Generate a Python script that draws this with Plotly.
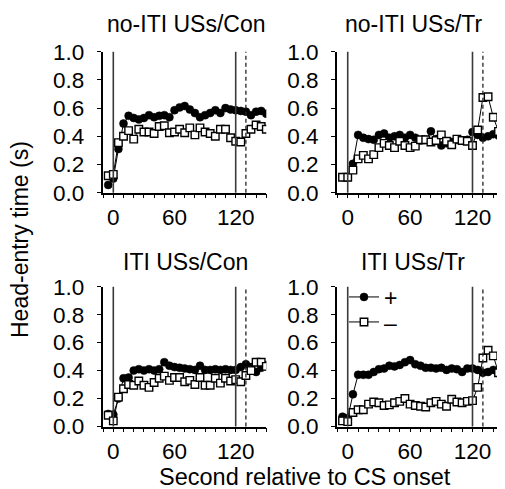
import plotly.graph_objects as go

# ---------------- data ----------------
time_s = [-5, 0, 5, 10, 15, 20, 25, 30, 35, 40, 45, 50, 55, 60, 65, 70, 75, 80,
          85, 90, 95, 100, 105, 110, 115, 120, 125, 130, 135, 140, 145, 150]

noiti_con_plus = [0.055, 0.10, 0.31, 0.49, 0.545, 0.53, 0.52, 0.53, 0.55, 0.535, 0.545, 0.55,
                  0.535, 0.585, 0.605, 0.615, 0.59, 0.565, 0.535, 0.55, 0.565, 0.585, 0.565, 0.60,
                  0.59, 0.585, 0.58, 0.575, 0.55, 0.575, 0.58, 0.56]
noiti_con_minus = [0.12, 0.13, 0.355, 0.40, 0.44, 0.38, 0.45, 0.43, 0.43, 0.42, 0.47, 0.475,
                   0.425, 0.43, 0.45, 0.425, 0.46, 0.41, 0.46, 0.43, 0.42, 0.40, 0.45, 0.45,
                   0.39, 0.365, 0.36, 0.42, 0.45, 0.48, 0.47, 0.45]

noiti_tr_plus = [0.11, 0.11, 0.205, 0.41, 0.39, 0.38, 0.375, 0.41, 0.42, 0.39, 0.40, 0.41,
                 0.39, 0.41, 0.39, 0.37, 0.375, 0.435, 0.38, 0.335, 0.35, 0.36, 0.375, 0.37,
                 0.375, 0.43, 0.41, 0.39, 0.40, 0.415, 0.405, 0.40]
noiti_tr_minus = [0.11, 0.11, 0.16, 0.24, 0.265, 0.24, 0.27, 0.32, 0.35, 0.335, 0.32, 0.365,
                  0.335, 0.32, 0.33, 0.375, 0.375, 0.36, 0.37, 0.41, 0.365, 0.34, 0.38, 0.37,
                  0.365, 0.335, 0.445, 0.675, 0.68, 0.535, 0.435, 0.36]

iti_con_plus = [0.09, 0.085, 0.20, 0.345, 0.35, 0.40, 0.41, 0.40, 0.41, 0.40, 0.41, 0.46,
                0.435, 0.425, 0.42, 0.415, 0.41, 0.405, 0.435, 0.405, 0.405, 0.41, 0.405, 0.41,
                0.405, 0.405, 0.425, 0.445, 0.425, 0.39, 0.42, 0.44]
iti_con_minus = [0.08, 0.04, 0.21, 0.27, 0.30, 0.295, 0.325, 0.295, 0.28, 0.315, 0.345, 0.36,
                 0.33, 0.35, 0.35, 0.32, 0.33, 0.30, 0.35, 0.295, 0.295, 0.345, 0.31, 0.345,
                 0.325, 0.335, 0.32, 0.365, 0.40, 0.46, 0.46, 0.43]

iti_tr_plus = [0.07, 0.06, 0.23, 0.37, 0.37, 0.37, 0.39, 0.41, 0.415, 0.435, 0.43, 0.44,
               0.46, 0.475, 0.445, 0.435, 0.42, 0.42, 0.415, 0.42, 0.405, 0.415, 0.41, 0.39,
               0.415, 0.415, 0.405, 0.385, 0.39, 0.405, 0.39, 0.39]
iti_tr_minus = [0.04, 0.035, 0.10, 0.12, 0.12, 0.16, 0.175, 0.17, 0.15, 0.155, 0.17, 0.18,
                0.20, 0.16, 0.15, 0.145, 0.14, 0.17, 0.18, 0.16, 0.145, 0.195, 0.175, 0.17,
                0.18, 0.185, 0.28, 0.49, 0.545, 0.505, 0.385, 0.32]

panel_titles = ["no-ITI USs/Con", "no-ITI USs/Tr", "ITI USs/Con", "ITI USs/Tr"]
panel_plus = [noiti_con_plus, noiti_tr_plus, iti_con_plus, iti_tr_plus]
panel_minus = [noiti_con_minus, noiti_tr_minus, iti_con_minus, iti_tr_minus]
legend_labels = ["+", "\u2013"]

solid_event_times = [0, 120]
dashed_event_time = 130
x_ticks = [0, 60, 120]
y_ticks = [0.0, 0.2, 0.4, 0.6, 0.8, 1.0]
y_tick_text = ["0.0", "0.2", "0.4", "0.6", "0.8", "1.0"]

# ---------------- layout geometry (page pixels) ----------------
PAGE_W, PAGE_H = 505, 489
OFF = 8                      # default body margin of the html page
W, H = PAGE_W - OFF, PAGE_H - OFF
FONT = "Liberation Sans, Arial, sans-serif"
FS = 22.5
FS_TITLE = 23

def px_x(p):
    return (p - OFF) / W

def px_y(p):
    return 1 - (p - OFF) / H

x_domains = [(102.6, 266.3), (336.8, 503.7), (102.6, 266.3), (336.8, 503.7)]
y_domains = [(51.7, 192.7), (51.7, 192.7), (286.7, 426.5), (286.7, 426.5)]
title_pos = [(186, 24), (413, 24), (185, 262), (413, 262)]

legend_common = dict(xanchor="left", yanchor="middle", bgcolor="rgba(0,0,0,0)", borderwidth=0,
                     itemwidth=30, font=dict(family=FONT, size=FS_TITLE, color="black"))

fig = go.Figure()
layout = dict(
    template="none",
    width=W, height=H, autosize=False,
    margin=dict(l=0, r=0, t=0, b=0, pad=0, autoexpand=False),
    paper_bgcolor="white", plot_bgcolor="white",
    font=dict(family=FONT, size=FS, color="black"),
    showlegend=True,
    legend=dict(x=px_x(344), y=px_y(297), **legend_common),
    legend2=dict(x=px_x(344), y=px_y(322), **legend_common),
)
shapes = []
annotations = []

for i in range(4):
    n = "" if i == 0 else str(i + 1)
    xa, ya = "x" + n, "y" + n
    x0, x1 = x_domains[i]
    yt, yb = y_domains[i]
    layout["xaxis" + n] = dict(
        domain=[px_x(x0), min(1.0, px_x(x1))], anchor=ya, range=[-10.5, 150], automargin=False,
        showgrid=False, zeroline=False, showline=True, linecolor="black", linewidth=1.5,
        ticks="outside", ticklen=4, tickwidth=1.2, tickcolor="black",
        tickmode="array", tickvals=x_ticks, ticktext=[str(t) for t in x_ticks],
        minor=dict(ticks="outside", ticklen=4, tickwidth=1.2, tickcolor="black", dtick=10, tick0=0,
                   showgrid=False),
        tickfont=dict(family=FONT, size=FS, color="black"),
    )
    layout["yaxis" + n] = dict(
        domain=[max(0.0, px_y(yb)), px_y(yt)], anchor=xa, range=[0, 1], automargin=False,
        showgrid=False, zeroline=False, showline=True, linecolor="black", linewidth=1.5,
        ticks="outside", ticklen=4, tickwidth=1.2, tickcolor="black",
        tickmode="array", tickvals=y_ticks, ticktext=y_tick_text,
        ticklabelstandoff=8,
        tickfont=dict(family=FONT, size=FS, color="black"),
    )
    for t in solid_event_times:
        shapes.append(dict(type="line", xref=xa, yref=ya + " domain", x0=t, x1=t, y0=0, y1=1,
                           line=dict(color="#3a3a3a", width=1.6)))
    shapes.append(dict(type="line", xref=xa, yref=ya + " domain", x0=dashed_event_time,
                       x1=dashed_event_time, y0=0, y1=1,
                       line=dict(color="#222222", width=1.3, dash="4px,3px")))
    tx, ty = title_pos[i]
    annotations.append(dict(text=panel_titles[i], x=px_x(tx), y=px_y(ty), xref="paper", yref="paper",
                            xanchor="center", yanchor="middle", showarrow=False,
                            font=dict(family=FONT, size=FS_TITLE, color="black")))

    fig.add_trace(go.Scatter(
        x=time_s, y=panel_plus[i], xaxis=xa, yaxis=ya, mode="lines+markers",
        name=legend_labels[0], legend="legend", showlegend=(i == 3),
        line=dict(color="black", width=1), cliponaxis=True,
        marker=dict(symbol="circle", size=8, color="black", line=dict(color="black", width=0.5)),
    ))
    fig.add_trace(go.Scatter(
        x=time_s, y=panel_minus[i], xaxis=xa, yaxis=ya, mode="lines+markers",
        name=legend_labels[1], legend="legend2", showlegend=(i == 3),
        line=dict(color="black", width=1), cliponaxis=True,
        marker=dict(symbol="square", size=7.5, color="white", line=dict(color="black", width=1.4)),
    ))

annotations.append(dict(text="Head-entry time (s)", x=px_x(20), y=px_y(240), xref="paper", yref="paper",
                        textangle=-90, xanchor="center", yanchor="middle", showarrow=False,
                        font=dict(family=FONT, size=FS_TITLE, color="black")))
annotations.append(dict(text="Second relative to CS onset", x=px_x(305), y=px_y(477), xref="paper",
                        yref="paper", xanchor="center", yanchor="middle", showarrow=False,
                        font=dict(family=FONT, size=FS_TITLE + 0.5, color="black")))

layout["shapes"] = shapes
layout["annotations"] = annotations
fig.update_layout(**layout)
fig.write_html("out.html")
